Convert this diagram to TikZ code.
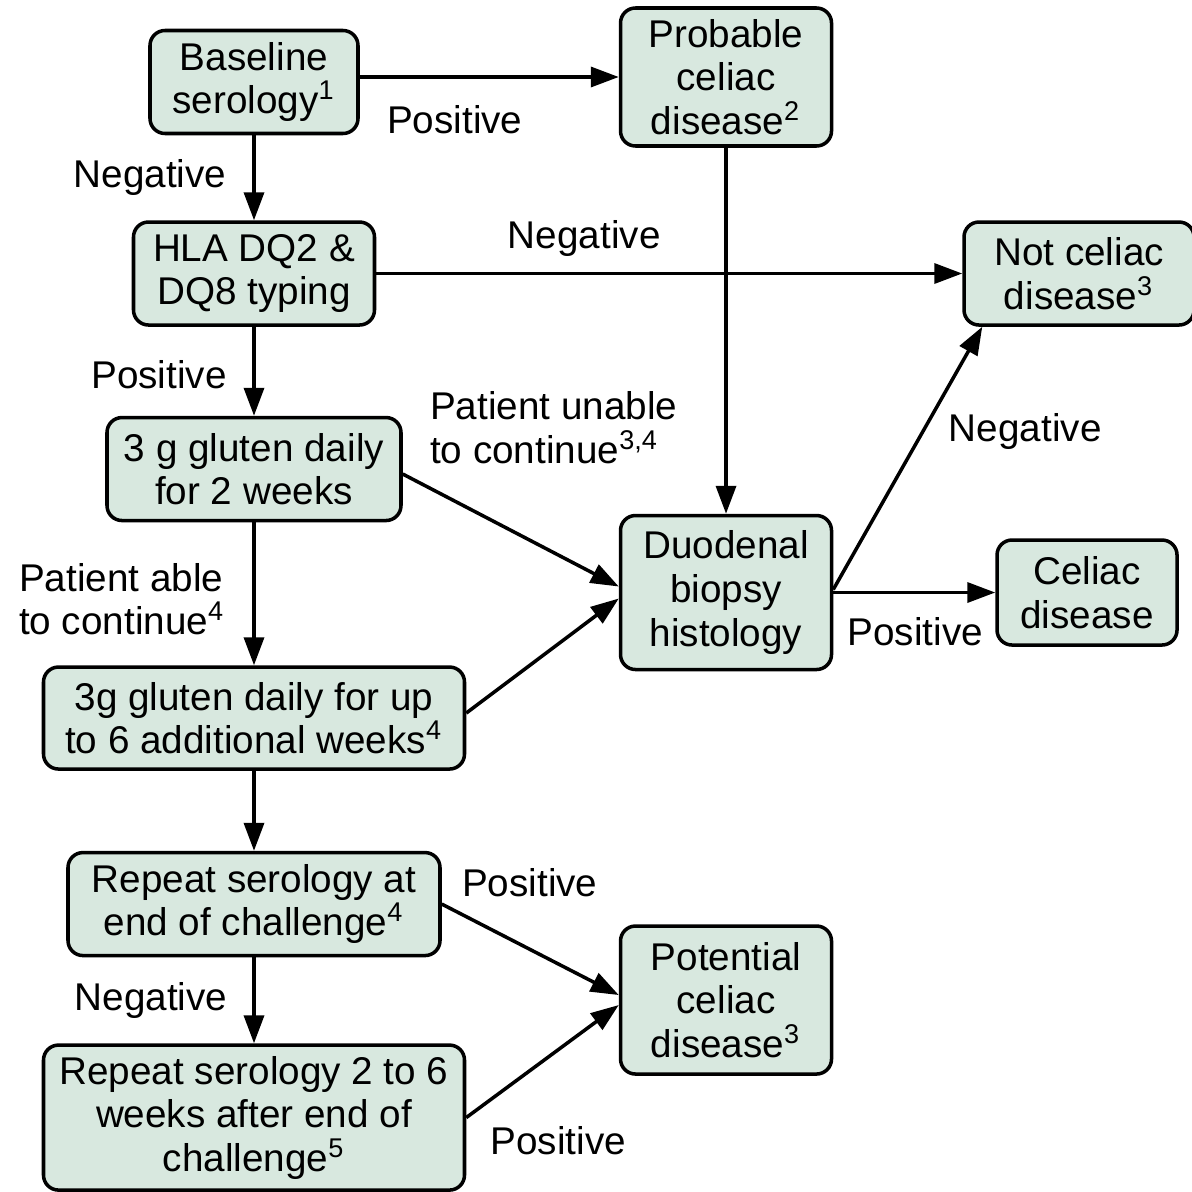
\documentclass[tikz,border=0pt]{standalone}
\usepackage{fontspec}
\setmainfont{Liberation Sans}
\usetikzlibrary{positioning, calc, arrows.meta}
\definecolor{boxfill}{RGB}{216,232,223}

\begin{document}
\begin{tikzpicture}[
    box/.style={
        draw,
        line width=1pt,
        rounded corners=0.15cm,
        fill=boxfill,
        align=center,
        inner sep=0pt,
        font=\fontsize{11}{12.4}\selectfont,
    },
    lbl/.style={
        align=left,
        inner sep=1pt,
        font=\fontsize{11}{12.4}\selectfont,
    },
    arrow/.style={
        -{Triangle[length=2.8mm, width=2mm]},
        line width=1pt,
    },
]
    \useasboundingbox (0,0) rectangle (11.91,-11.92);

    \node[box, minimum width=2.08cm, minimum height=1.03cm] (base) at (2.54,-0.82) {Baseline\\serology\textsuperscript{1}};
    \node[box, minimum width=2.11cm, minimum height=1.38cm, right=2.59cm of base, yshift=0.05cm] (prob) {Probable\\celiac\\disease\textsuperscript{2}};
    \node[box, minimum width=2.41cm, minimum height=1.03cm, below=0.85cm of base] (hla) {HLA DQ2 \&\\DQ8 typing};
    \node[box, minimum width=2.30cm, minimum height=1.03cm, right=5.86cm of hla] (notcd) {Not celiac\\disease\textsuperscript{3}};
    \node[box, minimum width=2.94cm, minimum height=1.03cm, below=0.89cm of hla] (g2) {3 g gluten daily\\for 2 weeks};
    \node[box, minimum width=2.11cm, minimum height=1.54cm, below=3.66cm of prob] (duo) {Duodenal\\biopsy\\histology};
    \node[box, minimum width=1.80cm, minimum height=1.05cm, right=1.62cm of duo] (cd) {Celiac\\disease};
    \node[box, minimum width=4.21cm, minimum height=1.02cm, below=1.43cm of g2] (g6) {3g gluten daily for up\\to 6 additional weeks\textsuperscript{4}};
    \node[box, minimum width=3.72cm, minimum height=1.03cm, below=0.80cm of g6] (rep1) {Repeat serology at\\end of challenge\textsuperscript{4}};
    \node[box, minimum width=2.11cm, minimum height=1.48cm, below=2.53cm of duo] (pot) {Potential\\celiac\\disease\textsuperscript{3}};
    \node[box, minimum width=4.21cm, minimum height=1.45cm, below=0.86cm of rep1] (rep2) {Repeat serology 2 to 6\\weeks after end of\\challenge\textsuperscript{5}};

    % labels
    \node[lbl] (l_pos1) at ($(base.east)+(0.95,-0.38)$) {Positive};
    \node[lbl] (l_neg1) at ($(base.south)+(-1.04,-0.42)$) {Negative};
    \node[lbl] (l_neg2) at ($(hla.east)+(2.08,0.35)$) {Negative};
    \node[lbl] (l_pos2) at ($(hla.south)+(-0.95,-0.48)$) {Positive};
    \node[lbl] (l_unable) at ($(g2.north east)+(1.51,-0.12)$) {Patient unable\\to continue\textsuperscript{3,4}};
    \node[lbl] (l_able) at ($(g2.south)+(-1.32,-0.77)$) {Patient able\\to continue\textsuperscript{4}};
    \node[lbl] (l_neg3) at ($(duo.east)+(1.92,1.61)$) {Negative};
    \node[lbl] (l_pos3) at ($(duo.east)+(0.82,-0.39)$) {Positive};
    \node[lbl] (l_pos4) at ($(rep1.east)+(0.88,0.21)$) {Positive};
    \node[lbl] (l_neg4) at ($(rep1.south)+(-1.03,-0.43)$) {Negative};
    \node[lbl] (l_pos5) at ($(rep2.east)+(0.92,-0.23)$) {Positive};

    % Draw arrows
    \draw[arrow] (base.east |- prob.west) -- (prob.west);
    \draw[arrow] (base) -- (hla);
    \draw[arrow] (hla) -- (notcd);
    \draw[arrow] (prob) -- (duo);
    \draw[arrow] (hla) -- (g2);
    \draw[arrow] ([yshift=-0.05cm]g2.east) -- ([yshift=0.06cm]duo.west);
    \draw[arrow] (g2) -- (g6);
    \draw[arrow] ([yshift=0.05cm]g6.east) -- ([yshift=-0.06cm]duo.west);
    \draw[arrow] ([yshift=0.03cm]duo.east) -- ([xshift=0.2cm]notcd.south west);
    \draw[arrow] (duo) -- (cd);
    \draw[arrow] (g6) -- (rep1);
    \draw[arrow] (rep1.east) -- ([yshift=0.05cm]pot.west);
    \draw[arrow] (rep1) -- (rep2);
    \draw[arrow] (rep2.east) -- ([yshift=-0.05cm]pot.west);

\end{tikzpicture}
\end{document}
